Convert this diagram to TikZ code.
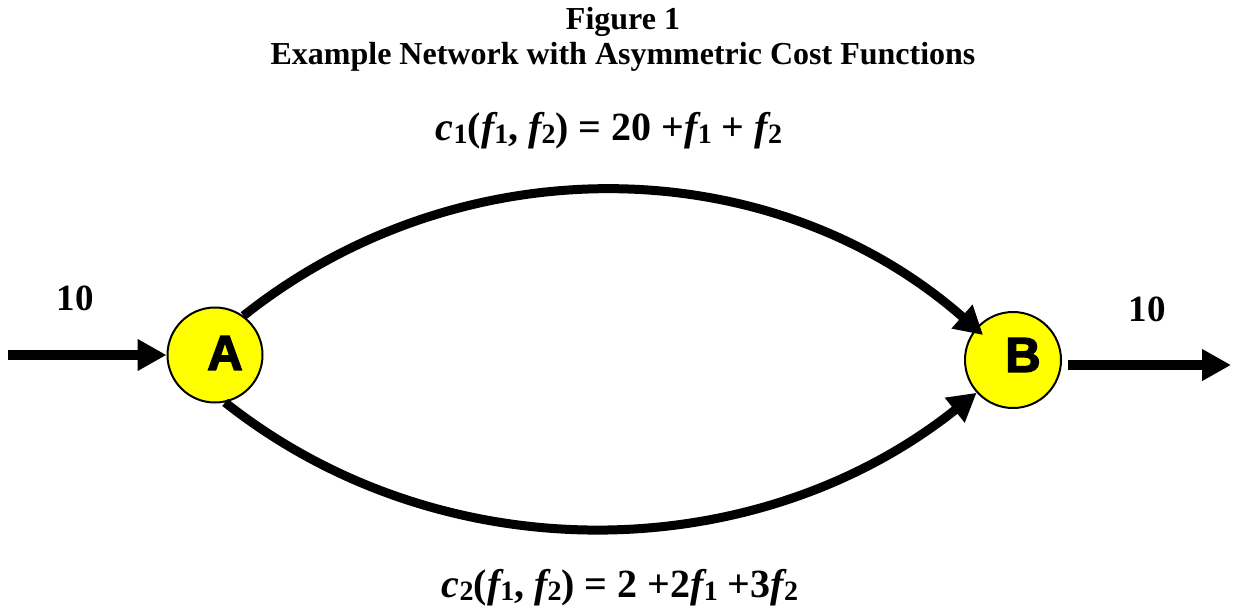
\documentclass[tikz,border=0pt]{standalone}
\usepackage{fontspec}
\setmainfont{Liberation Serif}
\newfontfamily\heavyfont[RawFeature={embolden=3}]{Liberation Sans}
\usetikzlibrary{arrows.meta}
\definecolor{nodeyellow}{RGB}{255,255,0}
\newcommand\sbx[1]{\raisebox{-0.08em}{\fontsize{28}{28}\selectfont\bfseries\upshape #1}}
\begin{document}
\begin{tikzpicture}[x=1pt,y=-1pt,
  netnode/.style={circle, draw=black, line width=2pt, fill=nodeyellow, inner sep=0pt},
  nodetext/.style={font=\fontsize{49}{49}\selectfont\heavyfont\bfseries, inner sep=0pt},
  flow/.style={line width=10pt, -{Triangle[length=29pt,width=30pt]}},
  arc/.style={line width=9pt, -{Triangle[length=28pt,width=30pt]}},
  ttl/.style={font=\fontsize{32}{38}\selectfont\bfseries, anchor=base, inner sep=0pt},
  num/.style={font=\fontsize{37}{40}\selectfont\bfseries, anchor=base, inner sep=0pt},
  cost/.style={font=\fontsize{40}{46}\selectfont\bfseries, anchor=base, inner sep=0pt}]
\fill[white] (0,0) rectangle (1235,614);
\useasboundingbox (0,0) rectangle (1235,614);

\node[ttl] (t1) at (623,29) {Figure 1};
\node[ttl] (t2) at (623,64) {Example Network with Asymmetric Cost Functions};

\node[netnode, minimum size=95pt, label={[nodetext, xshift=10pt, yshift=2pt]center:A}] (A) at (215,355) {};
\node[netnode, minimum size=96pt, label={[nodetext, xshift=10pt, yshift=5pt]center:B}] (B) at (1013,360) {};

\coordinate (src) at (8,355);
\coordinate (snk) at (1231,365);

\draw[flow] (src) -- (A.west);
\draw[flow] ([shift={(6,5)}]B.east) -- (snk);

\draw[arc] (A.54) .. controls (462,142) and (773,150) .. ([shift={(-30,-25)}]B.center);
\draw[arc] (A.-78) .. controls (443,575) and (757,568) .. (B.-138);

\node[num] (in10) at (75,310) {10};
\node[num] (out10) at (1147,321) {10};

\node[cost] (c1) at (609,140) {{\itshape c}\sbx{1}({\itshape f}\sbx{1}, {\itshape f}\sbx{2}) = 20 +{\itshape f}\sbx{1} + {\itshape f}\sbx{2}};
\node[cost] (c2) at (620,597) {{\itshape c}\sbx{2}({\itshape f}\sbx{1}, {\itshape f}\sbx{2}) = 2 +2{\itshape f}\sbx{1} +3{\itshape f}\sbx{2}};
\end{tikzpicture}
\end{document}
